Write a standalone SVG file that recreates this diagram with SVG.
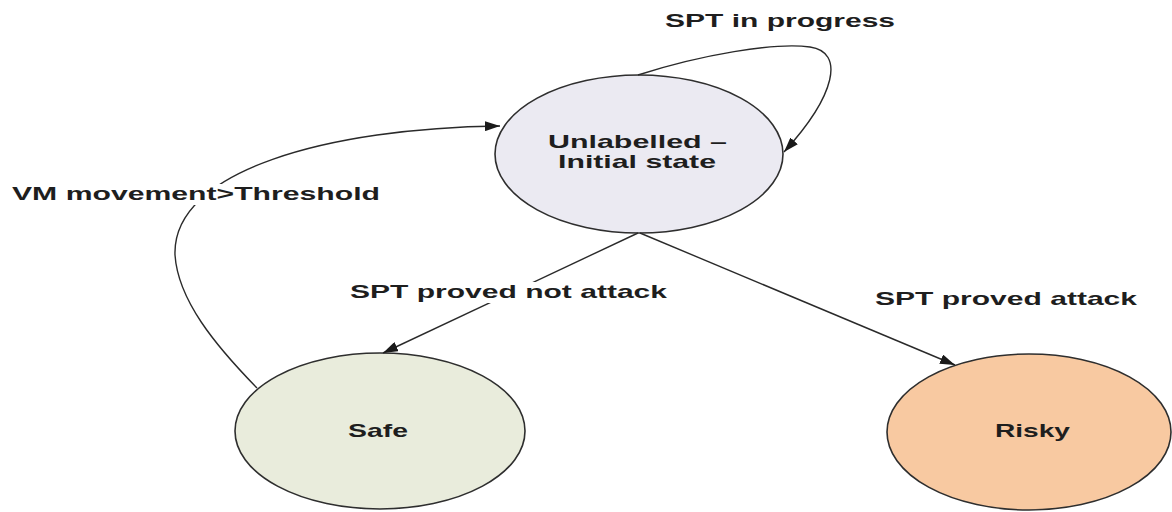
<svg xmlns="http://www.w3.org/2000/svg" width="1172" height="512" viewBox="0 0 1172 512">
  <style>
    .node { stroke: #2e2e2e; stroke-width: 1.6; }
    .edge { fill: none; stroke: #2a2a2a; stroke-width: 1.4; marker-end: url(#arrow); }
    .lbl { font-family: "Liberation Sans", Arial, sans-serif; font-weight: bold; font-size: 19px; fill: #1e1e1e; }
    .bg { fill: #ffffff; }
  </style>
  <defs>
    <marker id="arrow" viewBox="0 0 15 10" refX="15" refY="5" markerWidth="15" markerHeight="10" markerUnits="userSpaceOnUse" orient="auto">
      <path d="M0,0 L15,5 L0,10 z" fill="#1a1a1a"/>
    </marker>
  </defs>
  <rect width="1172" height="512" fill="#ffffff"/>

  <!-- state nodes -->
  <g id="node-unlabelled">
    <ellipse class="node" cx="639" cy="154" rx="144" ry="79" fill="#ebeaf2"/>
    <text class="lbl" x="548" y="148" textLength="179" lengthAdjust="spacingAndGlyphs">Unlabelled –</text>
    <text class="lbl" x="558" y="168" textLength="158" lengthAdjust="spacingAndGlyphs">Initial state</text>
  </g>
  <g id="node-safe">
    <ellipse class="node" cx="380" cy="431" rx="145" ry="78" fill="#e9ecdc"/>
    <text class="lbl" x="348" y="437" textLength="60" lengthAdjust="spacingAndGlyphs">Safe</text>
  </g>
  <g id="node-risky">
    <ellipse class="node" cx="1029" cy="432" rx="142" ry="78" fill="#f8c9a1"/>
    <text class="lbl" x="995" y="437" textLength="75" lengthAdjust="spacingAndGlyphs">Risky</text>
  </g>

  <!-- transitions -->
  <g id="connectors">
    <path class="edge" d="M638,75 C700,55 775,42 810,47 C845,52 836,95 784,152"/>
    <path class="edge" d="M257,388 C215,345 178,300 175,255 C172,170 330,128 500,126"/>
    <path class="edge" d="M638,233 L383,353"/>
    <path class="edge" d="M640,233 L955,365"/>

    <text class="lbl" x="665" y="27" textLength="230" lengthAdjust="spacingAndGlyphs">SPT in progress</text>
    <rect class="bg" x="8" y="184" width="376" height="21"/>
    <text class="lbl" x="12" y="200" textLength="368" lengthAdjust="spacingAndGlyphs">VM movement&gt;Threshold</text>
    <rect class="bg" x="346" y="282" width="325" height="21"/>
    <text class="lbl" x="350" y="298" textLength="317" lengthAdjust="spacingAndGlyphs">SPT proved not attack</text>
    <text class="lbl" x="875" y="305" textLength="262" lengthAdjust="spacingAndGlyphs">SPT proved attack</text>
  </g>
</svg>
